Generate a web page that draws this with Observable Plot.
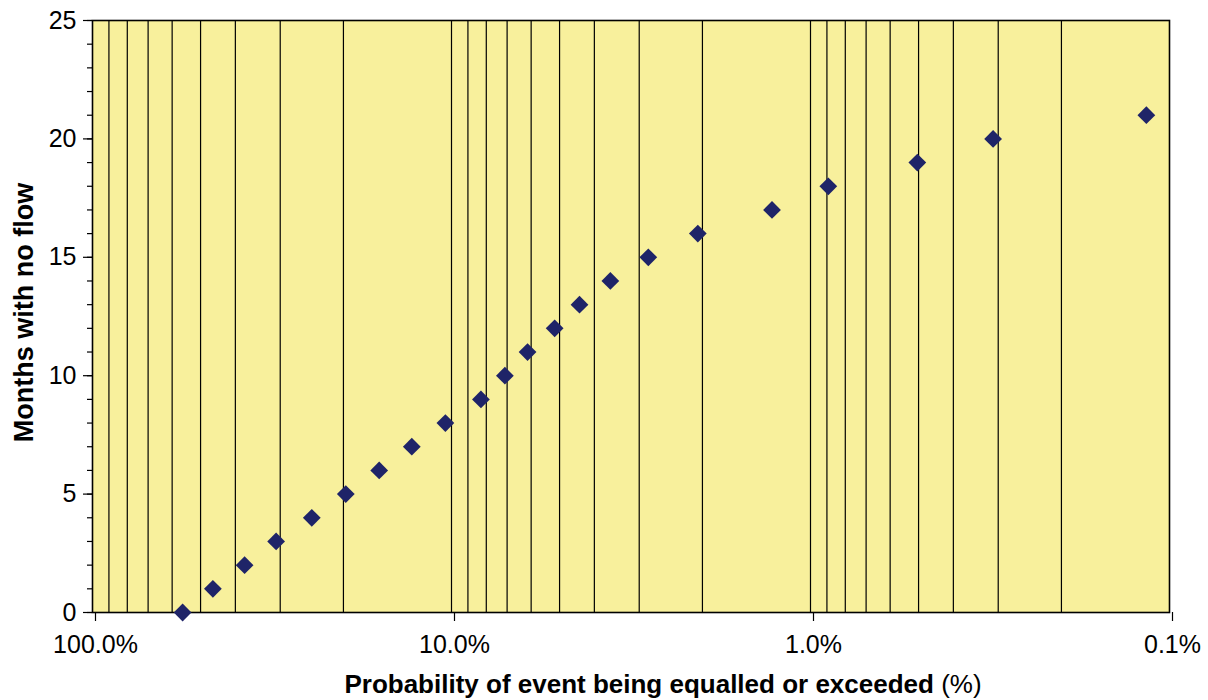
<!DOCTYPE html>
<html><head><meta charset="utf-8">
<script src="https://cdn.jsdelivr.net/npm/d3@7"></script>
<script src="https://cdn.jsdelivr.net/npm/@observablehq/plot@0.6"></script>
<style>body{margin:0;background:#fff;} #chart svg{display:block;}</style>
</head><body><div id="chart"></div>
<script>
// Data
const monthsNoFlow = [0,1,2,3,4,5,6,7,8,9,10,11,12,13,14,15,16,17,18,19,20,21];
const probabilityPct = [56.1,46.2,37.7,30.8,24.5,19.7,15.9,12.9,10.4,8.28,7.10,6.14,5.16,4.40,3.61,2.83,2.06,1.28,0.892,0.504,0.310,0.116];
const xTickValues = [100,10,1,0.1];
const xTickLabels = ["100.0%","10.0%","1.0%","0.1%"];
const yMajorTicks = [0,5,10,15,20,25];
const yMinorTicks = [0,1,2,3,4,5,6,7,8,9,10,11,12,13,14,15,16,17,18,19,20,21,22,23,24,25];
const xGridValues = [90,80,70,60,50,40,30,20,10,9,8,7,6,5,4,3,2,1,0.9,0.8,0.7,0.6,0.5,0.4,0.3,0.2];
const yTitle = "Months with no flow";
const xTitleBold = "Probability of event being equalled or exceeded";
const xTitleNormal = " (%)";

const data = monthsNoFlow.map((m, i) => ({m, p: probabilityPct[i]}));

const plot = Plot.plot({
  width: 1208, height: 700,
  marginLeft: 92, marginRight: 39, marginTop: 20, marginBottom: 88,
  style: {fontFamily: "'Liberation Sans', Arial, sans-serif", fontSize: "25px", background: "#ffffff", color: "#000"},
  x: {type: "log", domain: [100, 0.1], label: null},
  y: {domain: [0, 25], label: null},
  marks: [
    Plot.frame({fill: "#f8f09c", stroke: "none"}),
    Plot.ruleX(xGridValues, {stroke: "#000", strokeWidth: 1.2}),
    Plot.frame({stroke: "#000", strokeWidth: 1.6}),
    Plot.axisY(yMinorTicks, {tickSize: 5, tickFormat: () => "", label: null, strokeWidth: 1.2}),
    Plot.axisY(yMajorTicks, {tickSize: 9, tickPadding: 7, label: null, strokeWidth: 1.2}),
    Plot.axisX(xTickValues, {tickSize: 9, tickPadding: 14, dx: 3, label: null, strokeWidth: 1.2,
      tickFormat: d => xTickLabels[xTickValues.indexOf(d)]}),
    Plot.dot(data, {x: "p", y: "m", symbol: "diamond2", r: 8, fill: "#1f2468", stroke: "none"}),
    Plot.text([yTitle], {frameAnchor: "left", textAnchor: "middle", dx: -68, dy: -4, rotate: -90, fontWeight: "bold", fontSize: 27})
  ]
});
document.getElementById("chart").appendChild(plot);

// x-axis title with mixed weights
const svg = d3.select(plot);
const t = svg.append("text")
  .attr("x", 663).attr("y", 693)
  .attr("text-anchor", "middle")
  .attr("font-size", 26)
  .attr("fill", "#000");
t.append("tspan").attr("font-weight", "bold").text(xTitleBold);
t.append("tspan").attr("font-weight", "normal").text(xTitleNormal);
</script>
</body></html>
